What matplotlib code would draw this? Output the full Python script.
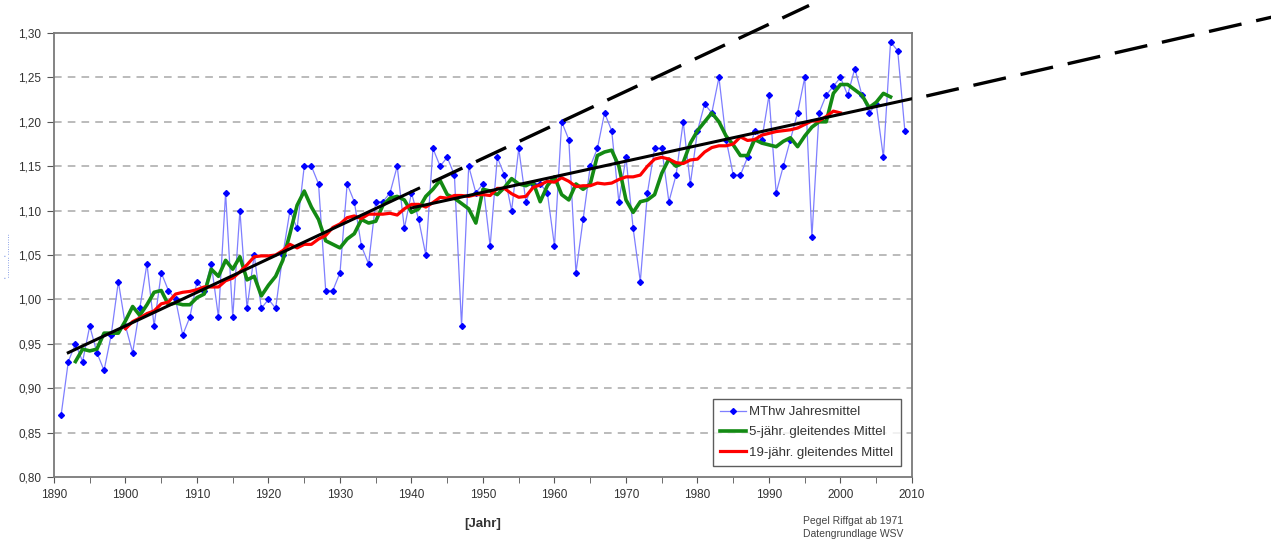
import numpy as np
import matplotlib
matplotlib.use('Agg')
import matplotlib.pyplot as plt
from matplotlib.ticker import MultipleLocator

plt.rcParams['font.family'] = ['Liberation Sans', 'DejaVu Sans']

# MThw Jahresmittel (m), 1891-2009
years = list(range(1891, 2010))
mthw = [0.87, 0.93, 0.95, 0.93, 0.97, 0.94, 0.92, 0.96, 1.02, 0.97,
        0.94, 0.99, 1.04, 0.97, 1.03, 1.01, 1.00, 0.96, 0.98, 1.02,
        1.01, 1.04, 0.98, 1.12, 0.98, 1.10, 0.99, 1.05, 0.99, 1.00,
        0.99, 1.05, 1.10, 1.08, 1.15, 1.15, 1.13, 1.01, 1.01, 1.03,
        1.13, 1.11, 1.06, 1.04, 1.11, 1.11, 1.12, 1.15, 1.08, 1.12,
        1.09, 1.05, 1.17, 1.15, 1.16, 1.14, 0.97, 1.15, 1.12, 1.13,
        1.06, 1.16, 1.14, 1.10, 1.17, 1.11, 1.13, 1.13, 1.12, 1.06,
        1.20, 1.18, 1.03, 1.09, 1.15, 1.17, 1.21, 1.19, 1.11, 1.16,
        1.08, 1.02, 1.12, 1.17, 1.17, 1.11, 1.14, 1.20, 1.13, 1.19,
        1.22, 1.21, 1.25, 1.18, 1.14, 1.14, 1.16, 1.19, 1.18, 1.23,
        1.12, 1.15, 1.18, 1.21, 1.25, 1.07, 1.21, 1.23, 1.24, 1.25,
        1.23, 1.26, 1.23, 1.21, 1.22, 1.16, 1.29, 1.28, 1.19]

# 5-jaehr. gleitendes Mittel, 1893-2007
years5 = list(range(1893, 2008))
mean5 = [0.930, 0.944, 0.942, 0.944, 0.962, 0.962, 0.962, 0.976,
         0.992, 0.982, 0.994, 1.008, 1.010, 0.994, 0.996, 0.994, 0.994, 1.002,
         1.006, 1.034, 1.026, 1.044, 1.034, 1.048, 1.022, 1.026, 1.004, 1.016,
         1.026, 1.044, 1.074, 1.106, 1.122, 1.104, 1.090, 1.066, 1.062, 1.058,
         1.068, 1.074, 1.090, 1.086, 1.088, 1.106, 1.114, 1.116, 1.112, 1.098,
         1.102, 1.116, 1.124, 1.134, 1.118, 1.114, 1.108, 1.102, 1.086, 1.124,
         1.122, 1.118, 1.126, 1.136, 1.130, 1.128, 1.132, 1.110, 1.128, 1.138,
         1.118, 1.112, 1.130, 1.124, 1.130, 1.162, 1.166, 1.168, 1.150, 1.112,
         1.098, 1.110, 1.112, 1.118, 1.142, 1.158, 1.150, 1.154, 1.176, 1.190,
         1.200, 1.210, 1.200, 1.184, 1.174, 1.162, 1.162, 1.180, 1.176, 1.174,
         1.172, 1.178, 1.182, 1.172, 1.184, 1.194, 1.200, 1.200, 1.232, 1.242,
         1.242, 1.236, 1.230, 1.216, 1.222, 1.232, 1.228]

# 19-jaehr. gleitendes Mittel, 1900-2000
years19 = list(range(1900, 2001))
mean19 = [0.967,
          0.975, 0.979, 0.984, 0.987, 0.995, 0.997, 1.006, 1.008, 1.009, 1.011,
          1.014, 1.014, 1.014, 1.021, 1.024, 1.031, 1.039, 1.048, 1.049, 1.049,
          1.050, 1.055, 1.062, 1.058, 1.062, 1.062, 1.068, 1.072, 1.081, 1.085,
          1.092, 1.094, 1.091, 1.096, 1.096, 1.096, 1.097, 1.095, 1.102, 1.107,
          1.107, 1.104, 1.109, 1.115, 1.114, 1.117, 1.117, 1.116, 1.118, 1.118,
          1.117, 1.125, 1.125, 1.119, 1.115, 1.116, 1.126, 1.129, 1.133, 1.132,
          1.137, 1.133, 1.127, 1.128, 1.128, 1.131, 1.130, 1.131, 1.135, 1.138,
          1.138, 1.140, 1.150, 1.158, 1.160, 1.158, 1.154, 1.153, 1.157, 1.158,
          1.166, 1.171, 1.173, 1.173, 1.175, 1.183, 1.179, 1.180, 1.185, 1.187,
          1.189, 1.190, 1.191, 1.193, 1.197, 1.201, 1.201, 1.206, 1.212, 1.210]

# trend lines (solid part and dashed extrapolation)
steep_years = [1892, 1941]
steep_vals = [0.940, 1.125]
steep_ext_years = [1942.9, 1995.6]
steep_ext_vals = [1.132, 1.331]
flat_years = [1940, 2010]
flat_vals = [1.103, 1.226]
flat_ext_years = [2012, 2060.4]
flat_ext_vals = [1.229, 1.318]

y_ticks = [0.80, 0.85, 0.90, 0.95, 1.00, 1.05, 1.10, 1.15, 1.20, 1.25, 1.30]
x_ticks = [1890, 1900, 1910, 1920, 1930, 1940, 1950, 1960, 1970, 1980, 1990, 2000, 2010]

W, H = 1271, 539
fig = plt.figure(figsize=(W / 100, H / 100), dpi=100)
ax = fig.add_axes([54 / W, 1 - 477 / H, (912 - 54) / W, (477 - 33) / H])

for yv in y_ticks[1:-1]:
    ax.axhline(yv, color='#a8a8a8', lw=1.1, dashes=(5, 4), zorder=1)

ax.plot(years, mthw, color='#7f7fff', lw=0.9, marker='D', ms=3.0,
        mfc='#0000ff', mec='#0000ff', label='MThw Jahresmittel', zorder=2)
ax.plot(years5, mean5, color='#138a13', lw=2.6, label='5-jähr. gleitendes Mittel', zorder=3)
ax.plot(years19, mean19, color='#ff0000', lw=2.3, label='19-jähr. gleitendes Mittel', zorder=4)

ax.plot(steep_years, steep_vals, color='black', lw=2.2, zorder=5)
ax.plot(flat_years, flat_vals, color='black', lw=2.2, zorder=5)
ax.plot(steep_ext_years, steep_ext_vals, color='black', lw=2.4, dashes=(10, 4.5),
        clip_on=False, zorder=5)
ax.plot(flat_ext_years, flat_ext_vals, color='black', lw=2.4, dashes=(10, 4.5),
        clip_on=False, zorder=5)

ax.set_xlim(1890, 2010)
ax.set_ylim(0.80, 1.30)
ax.set_xticks(x_ticks)
ax.xaxis.set_minor_locator(MultipleLocator(5))
ax.set_yticks(y_ticks)
ax.set_yticklabels([('%.2f' % v).replace('.', ',') for v in y_ticks])
ax.tick_params(axis='both', which='both', direction='out', color='#555555',
               labelsize=8.5, labelcolor='#333333')
ax.tick_params(axis='x', which='major', length=4, pad=5)
ax.tick_params(axis='x', which='minor', length=4)
ax.tick_params(axis='y', length=5, pad=4)
for s in ax.spines.values():
    s.set_color('#7a7a7a')
    s.set_linewidth(1.3)

ax.set_xlabel('[Jahr]', fontsize=9.5, fontweight='bold', color='#333333', labelpad=12)

leg = ax.legend(loc='lower right', bbox_to_anchor=(0.987, 0.025), borderaxespad=0,
                fontsize=9.5, frameon=True, fancybox=False, handlelength=2.0,
                handletextpad=0.25, labelspacing=0.6, borderpad=0.55)
leg.get_frame().set_edgecolor('#333333')
leg.get_frame().set_linewidth(1.0)
for t in leg.get_texts():
    t.set_color('#333333')

fig.text(803 / W, 1 - 521 / H, 'Pegel Riffgat ab 1971', fontsize=7.5, color='#444444',
         va='center', ha='left')
fig.text(803 / W, 1 - 534 / H, 'Datengrundlage WSV', fontsize=7.5, color='#444444',
         va='center', ha='left')

# faint dotted y-axis label
fig.text(8 / W, 1 - 255 / H, "'.........'.........", fontsize=6, color='#5577dd',
         rotation=90, va='center', ha='center')

fig.savefig('out.png', dpi=100)
